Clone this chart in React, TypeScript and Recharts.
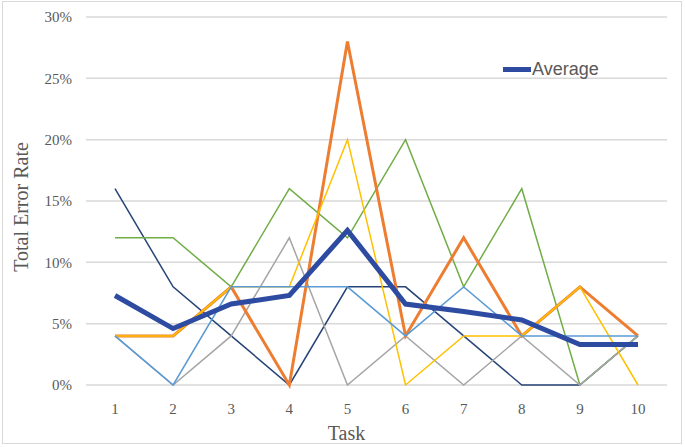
import { LineChart, Line, XAxis, YAxis, CartesianGrid, Legend } from 'recharts'

const tasks = ['1', '2', '3', '4', '5', '6', '7', '8', '9', '10']
const navyRates = [16, 8, 4, 0, 8, 8, 4, 0, 0, 4]
const greenRates = [12, 12, 8, 16, 12, 20, 8, 16, 0, 4]
const grayRates = [4, 0, 4, 12, 0, 4, 0, 4, 0, 4]
const orangeRates = [4, 4, 8, 0, 28, 4, 12, 4, 8, 4]
const yellowRates = [4, 4, 8, 8, 20, 0, 4, 4, 8, 0]
const lightBlueRates = [4, 0, 8, 8, 8, 4, 8, 4, 4, 4]
const averageRates = [7.3, 4.6, 6.6, 7.3, 12.6, 6.6, 6.0, 5.3, 3.3, 3.3]
const yTicks = [0, 5, 10, 15, 20, 25, 30]

const data = tasks.map((task, i) => ({
  task,
  navy: navyRates[i],
  green: greenRates[i],
  gray: grayRates[i],
  orange: orangeRates[i],
  yellow: yellowRates[i],
  lightBlue: lightBlueRates[i],
  average: averageRates[i],
}))

const textGray = '#595959'
const serif = '"Liberation Serif", "Times New Roman", serif'

export default function App() {
  return (
    <div style={{ position: 'absolute', left: 0, top: 0, width: 685, height: 447, background: '#fff' }}>
      <div
        style={{
          position: 'absolute',
          left: 2,
          top: 1,
          width: 678,
          height: 441,
          border: '1px solid #D9D9D9',
        }}
      />
      <LineChart
        width={685}
        height={447}
        data={data}
        margin={{ top: 17, right: 18, bottom: 0, left: 0 }}
        style={{ position: 'absolute', left: 0, top: 0 }}
      >
        <CartesianGrid vertical={false} stroke="#D9D9D9" strokeWidth={1.5} />
        <XAxis
          dataKey="task"
          height={62}
          padding={{ left: 29, right: 29 }}
          axisLine={false}
          tickLine={false}
          tickMargin={12}
          tick={{ fill: textGray, fontSize: 15, fontFamily: serif }}
          label={{
            content: ({ viewBox }: any) => (
              <text
                x={viewBox.x + viewBox.width / 2 - 30}
                y={viewBox.y + 48}
                textAnchor="middle"
                dominantBaseline="central"
                fill={textGray}
                fontSize={20}
                fontFamily={serif}
              >
                Task
              </text>
            ),
          }}
        />
        <YAxis
          width={86}
          domain={[0, 30]}
          ticks={yTicks}
          axisLine={false}
          tickLine={false}
          tickMargin={8}
          tickFormatter={(v: number) => `${v}%`}
          tick={{ fill: textGray, fontSize: 15, fontFamily: serif }}
          label={{
            content: ({ viewBox }: any) => {
              const cx = 21
              const cy = viewBox.y + viewBox.height / 2 + 6
              return (
                <text
                  x={cx}
                  y={cy}
                  transform={`rotate(-90, ${cx}, ${cy})`}
                  textAnchor="middle"
                  dominantBaseline="central"
                  fill={textGray}
                  fontSize={20}
                  fontFamily={serif}
                >
                  Total Error Rate
                </text>
              )
            },
          }}
        />
        <Legend
          layout="horizontal"
          verticalAlign="middle"
          align="center"
          wrapperStyle={{ left: 503, top: 59, width: 140 }}
          content={() => (
            <div style={{ display: 'flex', alignItems: 'center', fontFamily: '"Liberation Sans", Arial, sans-serif', fontSize: 18, color: textGray }}>
              <span style={{ display: 'inline-block', width: 28, height: 5, background: '#2E4BA2', marginRight: 1 }} />
              Average
            </div>
          )}
        />
        <Line dataKey="navy" stroke="#264478" strokeWidth={1.5} dot={false} isAnimationActive={false} legendType="none" />
        <Line dataKey="green" stroke="#70AD47" strokeWidth={1.5} dot={false} isAnimationActive={false} legendType="none" />
        <Line dataKey="gray" stroke="#A5A5A5" strokeWidth={1.5} dot={false} isAnimationActive={false} legendType="none" />
        <Line dataKey="orange" stroke="#ED7D31" strokeWidth={3} dot={false} isAnimationActive={false} legendType="none" />
        <Line dataKey="yellow" stroke="#FFC000" strokeWidth={1.5} dot={false} isAnimationActive={false} legendType="none" />
        <Line dataKey="lightBlue" stroke="#5B9BD5" strokeWidth={1.5} dot={false} isAnimationActive={false} legendType="none" />
        <Line dataKey="average" name="Average" stroke="#2E4BA2" strokeWidth={5} dot={false} isAnimationActive={false} />
      </LineChart>
    </div>
  )
}
